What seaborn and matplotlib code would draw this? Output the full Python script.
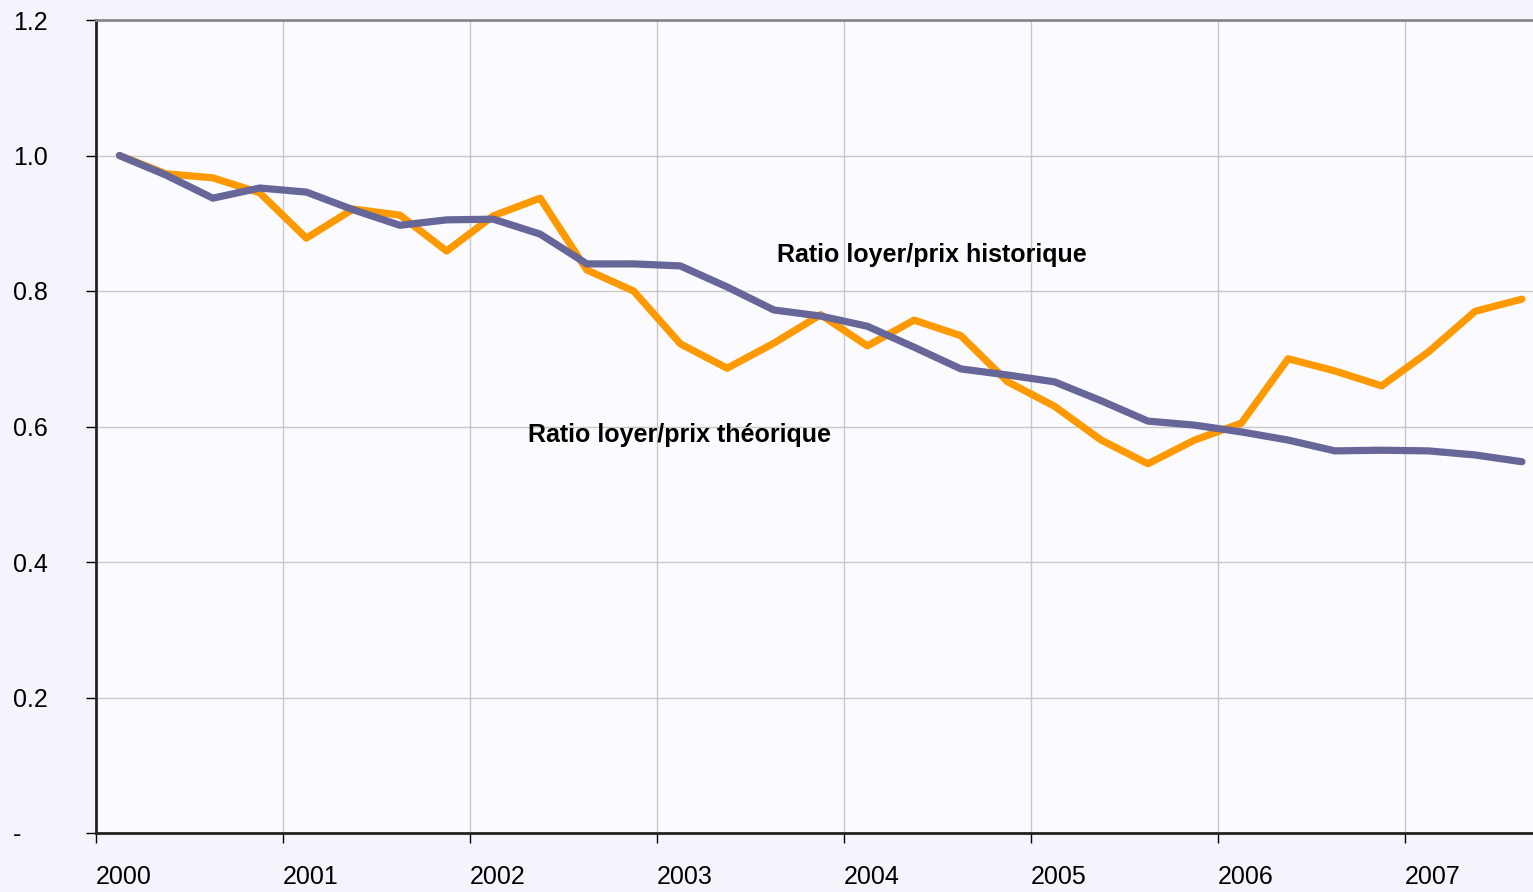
import numpy as np
import pandas as pd
import matplotlib.pyplot as plt
import matplotlib.font_manager as fm
import seaborn as sns

# trimestres 2000T1 .. 2007T3 (milieu de trimestre)
dates = [2000.125 + 0.25 * i for i in range(31)]

ratio_violet = [1.000, 0.971, 0.937, 0.952, 0.946, 0.920, 0.897, 0.905, 0.906, 0.884,
                0.840, 0.840, 0.837, 0.806, 0.772, 0.763, 0.748, 0.717, 0.685, 0.676,
                0.666, 0.638, 0.608, 0.602, 0.592, 0.580, 0.564, 0.565, 0.564, 0.558,
                0.548]
ratio_orange = [1.000, 0.973, 0.967, 0.945, 0.878, 0.921, 0.912, 0.859, 0.911, 0.937,
                0.831, 0.800, 0.722, 0.686, 0.723, 0.765, 0.719, 0.757, 0.734, 0.666,
                0.630, 0.580, 0.545, 0.580, 0.605, 0.700, 0.682, 0.660, 0.710, 0.770,
                0.788]

years = list(range(2000, 2008))
yticks = [0, 0.2, 0.4, 0.6, 0.8, 1.0, 1.2]
ylabels = ['-', '0.2', '0.4', '0.6', '0.8', '1.0', '1.2']

df = pd.DataFrame({
    'date': dates * 2,
    'ratio': ratio_orange + ratio_violet,
    'serie': ['orange'] * 31 + ['violet'] * 31,
})

sns.set_style('white')
names = {f.name for f in fm.fontManager.ttflist}
fam = 'Liberation Sans Narrow' if 'Liberation Sans Narrow' in names else 'Liberation Sans'
plt.rcParams['font.family'] = [fam, 'DejaVu Sans']
plt.rcParams['text.color'] = 'black'
plt.rcParams['xtick.color'] = 'black'
plt.rcParams['ytick.color'] = 'black'
fs = 20 if fam == 'Liberation Sans Narrow' else 18

fig = plt.figure(figsize=(15.33, 8.92), dpi=100)
fig.patch.set_facecolor('#f4f4fc')
ax = fig.add_axes([96 / 1533, 1 - 833 / 892, 1 - 96 / 1533, (833 - 20) / 892])
ax.set_facecolor('#fbfbff')

sns.lineplot(data=df, x='date', y='ratio', hue='serie',
             palette={'orange': '#ff9900', 'violet': '#666699'},
             linewidth=5.2, legend=False, ax=ax, solid_capstyle='round')

ax.set_xlim(2000, 2000 + (1533 - 96) / 187)
ax.set_ylim(0, 1.2)
ax.set_xticks(years)
ax.set_xticklabels([str(y) for y in years], ha='left', fontsize=fs)
ax.set_yticks(yticks)
ax.set_yticklabels(ylabels, fontsize=fs, ha='left')
ax.set_xlabel('')
ax.set_ylabel('')

ax.grid(True, color='#c8c8c8', linewidth=1)
ax.set_axisbelow(True)
ax.tick_params(axis='both', which='both', length=7, width=1, color='black',
               labelcolor='black', direction='out', bottom=True, left=True)
ax.tick_params(axis='x', pad=16)
ax.tick_params(axis='y', pad=53)

ax.spines['left'].set_color('#222222')
ax.spines['left'].set_linewidth(2)
ax.spines['bottom'].set_color('#222222')
ax.spines['bottom'].set_linewidth(2)
ax.spines['top'].set_color('#888888')
ax.spines['top'].set_linewidth(2)
ax.spines['right'].set_visible(False)

ax.text(2003.64, 0.853, 'Ratio loyer/prix historique', fontsize=fs,
        fontweight='bold', va='center', ha='left', color='black')
ax.text(2002.31, 0.587, 'Ratio loyer/prix théorique', fontsize=fs,
        fontweight='bold', va='center', ha='left', color='black')

fig.savefig('out.png', dpi=100, facecolor=fig.get_facecolor())
